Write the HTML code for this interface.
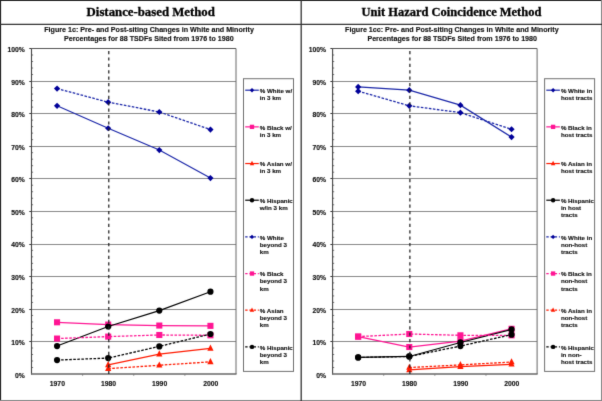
<!DOCTYPE html>
<html><head><meta charset="utf-8"><style>
html,body{margin:0;padding:0;background:#fff;width:602px;height:401px;overflow:hidden;}
body{position:relative;font-family:'Liberation Sans',sans-serif;}
</style></head><body>
<svg width="602" height="401" viewBox="0 0 602 401" style="position:absolute;left:0;top:0;font-family:'Liberation Sans',sans-serif">
<style>.s{stroke:#111;stroke-width:0.14px;}</style>
<defs><filter id="bl" x="0" y="0" width="602" height="401" filterUnits="userSpaceOnUse" color-interpolation-filters="sRGB"><feConvolveMatrix order="3" kernelMatrix="0.01 0.08 0.01 0.08 0.64 0.08 0.01 0.08 0.01" divisor="1" edgeMode="duplicate"/></filter></defs><g filter="url(#bl)">
<rect width="602" height="401" fill="#fff"/>
<line x1="31.50" y1="341.50" x2="236.00" y2="341.50" stroke="#888" stroke-width="1"/>
<line x1="29.30" y1="341.50" x2="31.50" y2="341.50" stroke="#333" stroke-width="1"/>
<line x1="31.50" y1="309.50" x2="236.00" y2="309.50" stroke="#888" stroke-width="1"/>
<line x1="29.30" y1="309.50" x2="31.50" y2="309.50" stroke="#333" stroke-width="1"/>
<line x1="31.50" y1="276.50" x2="236.00" y2="276.50" stroke="#888" stroke-width="1"/>
<line x1="29.30" y1="276.50" x2="31.50" y2="276.50" stroke="#333" stroke-width="1"/>
<line x1="31.50" y1="244.50" x2="236.00" y2="244.50" stroke="#888" stroke-width="1"/>
<line x1="29.30" y1="244.50" x2="31.50" y2="244.50" stroke="#333" stroke-width="1"/>
<line x1="31.50" y1="211.50" x2="236.00" y2="211.50" stroke="#888" stroke-width="1"/>
<line x1="29.30" y1="211.50" x2="31.50" y2="211.50" stroke="#333" stroke-width="1"/>
<line x1="31.50" y1="178.50" x2="236.00" y2="178.50" stroke="#888" stroke-width="1"/>
<line x1="29.30" y1="178.50" x2="31.50" y2="178.50" stroke="#333" stroke-width="1"/>
<line x1="31.50" y1="146.50" x2="236.00" y2="146.50" stroke="#888" stroke-width="1"/>
<line x1="29.30" y1="146.50" x2="31.50" y2="146.50" stroke="#333" stroke-width="1"/>
<line x1="31.50" y1="113.50" x2="236.00" y2="113.50" stroke="#888" stroke-width="1"/>
<line x1="29.30" y1="113.50" x2="31.50" y2="113.50" stroke="#333" stroke-width="1"/>
<line x1="31.50" y1="81.50" x2="236.00" y2="81.50" stroke="#888" stroke-width="1"/>
<line x1="29.30" y1="81.50" x2="31.50" y2="81.50" stroke="#333" stroke-width="1"/>
<line x1="31.50" y1="48.50" x2="236.00" y2="48.50" stroke="#555" stroke-width="1"/>
<line x1="29.30" y1="48.50" x2="31.50" y2="48.50" stroke="#333" stroke-width="1"/>
<line x1="236.00" y1="48.50" x2="236.00" y2="374.05" stroke="#666" stroke-width="1"/>
<line x1="31.50" y1="367.54" x2="33.10" y2="367.54" stroke="#555" stroke-width="0.8"/>
<line x1="31.50" y1="361.03" x2="33.10" y2="361.03" stroke="#555" stroke-width="0.8"/>
<line x1="31.50" y1="354.52" x2="33.10" y2="354.52" stroke="#555" stroke-width="0.8"/>
<line x1="31.50" y1="348.01" x2="33.10" y2="348.01" stroke="#555" stroke-width="0.8"/>
<line x1="31.50" y1="334.98" x2="33.10" y2="334.98" stroke="#555" stroke-width="0.8"/>
<line x1="31.50" y1="328.47" x2="33.10" y2="328.47" stroke="#555" stroke-width="0.8"/>
<line x1="31.50" y1="321.96" x2="33.10" y2="321.96" stroke="#555" stroke-width="0.8"/>
<line x1="31.50" y1="315.45" x2="33.10" y2="315.45" stroke="#555" stroke-width="0.8"/>
<line x1="31.50" y1="302.43" x2="33.10" y2="302.43" stroke="#555" stroke-width="0.8"/>
<line x1="31.50" y1="295.92" x2="33.10" y2="295.92" stroke="#555" stroke-width="0.8"/>
<line x1="31.50" y1="289.41" x2="33.10" y2="289.41" stroke="#555" stroke-width="0.8"/>
<line x1="31.50" y1="282.90" x2="33.10" y2="282.90" stroke="#555" stroke-width="0.8"/>
<line x1="31.50" y1="269.87" x2="33.10" y2="269.87" stroke="#555" stroke-width="0.8"/>
<line x1="31.50" y1="263.36" x2="33.10" y2="263.36" stroke="#555" stroke-width="0.8"/>
<line x1="31.50" y1="256.85" x2="33.10" y2="256.85" stroke="#555" stroke-width="0.8"/>
<line x1="31.50" y1="250.34" x2="33.10" y2="250.34" stroke="#555" stroke-width="0.8"/>
<line x1="31.50" y1="237.32" x2="33.10" y2="237.32" stroke="#555" stroke-width="0.8"/>
<line x1="31.50" y1="230.81" x2="33.10" y2="230.81" stroke="#555" stroke-width="0.8"/>
<line x1="31.50" y1="224.30" x2="33.10" y2="224.30" stroke="#555" stroke-width="0.8"/>
<line x1="31.50" y1="217.79" x2="33.10" y2="217.79" stroke="#555" stroke-width="0.8"/>
<line x1="31.50" y1="204.76" x2="33.10" y2="204.76" stroke="#555" stroke-width="0.8"/>
<line x1="31.50" y1="198.25" x2="33.10" y2="198.25" stroke="#555" stroke-width="0.8"/>
<line x1="31.50" y1="191.74" x2="33.10" y2="191.74" stroke="#555" stroke-width="0.8"/>
<line x1="31.50" y1="185.23" x2="33.10" y2="185.23" stroke="#555" stroke-width="0.8"/>
<line x1="31.50" y1="172.21" x2="33.10" y2="172.21" stroke="#555" stroke-width="0.8"/>
<line x1="31.50" y1="165.70" x2="33.10" y2="165.70" stroke="#555" stroke-width="0.8"/>
<line x1="31.50" y1="159.19" x2="33.10" y2="159.19" stroke="#555" stroke-width="0.8"/>
<line x1="31.50" y1="152.68" x2="33.10" y2="152.68" stroke="#555" stroke-width="0.8"/>
<line x1="31.50" y1="139.65" x2="33.10" y2="139.65" stroke="#555" stroke-width="0.8"/>
<line x1="31.50" y1="133.14" x2="33.10" y2="133.14" stroke="#555" stroke-width="0.8"/>
<line x1="31.50" y1="126.63" x2="33.10" y2="126.63" stroke="#555" stroke-width="0.8"/>
<line x1="31.50" y1="120.12" x2="33.10" y2="120.12" stroke="#555" stroke-width="0.8"/>
<line x1="31.50" y1="107.10" x2="33.10" y2="107.10" stroke="#555" stroke-width="0.8"/>
<line x1="31.50" y1="100.59" x2="33.10" y2="100.59" stroke="#555" stroke-width="0.8"/>
<line x1="31.50" y1="94.08" x2="33.10" y2="94.08" stroke="#555" stroke-width="0.8"/>
<line x1="31.50" y1="87.57" x2="33.10" y2="87.57" stroke="#555" stroke-width="0.8"/>
<line x1="31.50" y1="74.54" x2="33.10" y2="74.54" stroke="#555" stroke-width="0.8"/>
<line x1="31.50" y1="68.03" x2="33.10" y2="68.03" stroke="#555" stroke-width="0.8"/>
<line x1="31.50" y1="61.52" x2="33.10" y2="61.52" stroke="#555" stroke-width="0.8"/>
<line x1="31.50" y1="55.01" x2="33.10" y2="55.01" stroke="#555" stroke-width="0.8"/>
<line x1="31.50" y1="48.50" x2="31.50" y2="374.55" stroke="#444" stroke-width="1.1"/>
<line x1="31.00" y1="374.0" x2="236.50" y2="374.0" stroke="#666" stroke-width="1.6"/>
<line x1="82.62" y1="374.05" x2="82.62" y2="375.85" stroke="#777" stroke-width="0.8"/>
<line x1="133.75" y1="374.05" x2="133.75" y2="375.85" stroke="#777" stroke-width="0.8"/>
<line x1="184.88" y1="374.05" x2="184.88" y2="375.85" stroke="#777" stroke-width="0.8"/>
<text x="24.80" y="377.65" text-anchor="end" font-size="6.75" class="s" font-weight="bold" fill="#111">0%</text>
<text x="24.80" y="345.10" text-anchor="end" font-size="6.75" class="s" font-weight="bold" fill="#111">10%</text>
<text x="24.80" y="312.54" text-anchor="end" font-size="6.75" class="s" font-weight="bold" fill="#111">20%</text>
<text x="24.80" y="279.99" text-anchor="end" font-size="6.75" class="s" font-weight="bold" fill="#111">30%</text>
<text x="24.80" y="247.43" text-anchor="end" font-size="6.75" class="s" font-weight="bold" fill="#111">40%</text>
<text x="24.80" y="214.88" text-anchor="end" font-size="6.75" class="s" font-weight="bold" fill="#111">50%</text>
<text x="24.80" y="182.32" text-anchor="end" font-size="6.75" class="s" font-weight="bold" fill="#111">60%</text>
<text x="24.80" y="149.77" text-anchor="end" font-size="6.75" class="s" font-weight="bold" fill="#111">70%</text>
<text x="24.80" y="117.21" text-anchor="end" font-size="6.75" class="s" font-weight="bold" fill="#111">80%</text>
<text x="24.80" y="84.66" text-anchor="end" font-size="6.75" class="s" font-weight="bold" fill="#111">90%</text>
<text x="24.80" y="52.10" text-anchor="end" font-size="6.75" class="s" font-weight="bold" fill="#111">100%</text>
<text x="57.36" y="385.60" text-anchor="middle" font-size="6.8" class="s" font-weight="bold" fill="#111">1970</text>
<text x="108.49" y="385.60" text-anchor="middle" font-size="6.8" class="s" font-weight="bold" fill="#111">1980</text>
<text x="159.61" y="385.60" text-anchor="middle" font-size="6.8" class="s" font-weight="bold" fill="#111">1990</text>
<text x="210.74" y="385.60" text-anchor="middle" font-size="6.8" class="s" font-weight="bold" fill="#111">2000</text>
<path d="M57.06 105.80L108.19 128.26L159.31 150.07L210.44 178.07" fill="none" stroke="#1a26a8" stroke-width="1.2"/>
<path d="M57.06 102.70L60.16 105.80L57.06 108.90L53.96 105.80Z" fill="#000099"/>
<path d="M108.19 125.16L111.29 128.26L108.19 131.36L105.09 128.26Z" fill="#000099"/>
<path d="M159.31 146.97L162.41 150.07L159.31 153.17L156.21 150.07Z" fill="#000099"/>
<path d="M210.44 174.97L213.54 178.07L210.44 181.17L207.34 178.07Z" fill="#000099"/>
<path d="M57.06 322.29L108.19 324.57L159.31 325.54L210.44 325.87" fill="none" stroke="#ff1493" stroke-width="1.2"/>
<rect x="54.02" y="319.25" width="6.08" height="6.08" fill="#ff1493"/>
<rect x="105.15" y="321.53" width="6.08" height="6.08" fill="#ff1493"/>
<rect x="156.27" y="322.51" width="6.08" height="6.08" fill="#ff1493"/>
<rect x="207.40" y="322.83" width="6.08" height="6.08" fill="#ff1493"/>
<path d="M108.19 364.93L159.31 354.19L210.44 348.33" fill="none" stroke="#ff1a00" stroke-width="1.2"/>
<path d="M108.19 361.06L111.29 367.26L105.09 367.26Z" fill="#ff1a00"/>
<path d="M159.31 350.32L162.41 356.52L156.21 356.52Z" fill="#ff1a00"/>
<path d="M210.44 344.46L213.54 350.66L207.34 350.66Z" fill="#ff1a00"/>
<path d="M57.06 346.05L108.19 326.52L159.31 310.57L210.44 291.69" fill="none" stroke="#000000" stroke-width="1.2"/>
<circle cx="57.06" cy="346.05" r="3.10" fill="#000000"/>
<circle cx="108.19" cy="326.52" r="3.10" fill="#000000"/>
<circle cx="159.31" cy="310.57" r="3.10" fill="#000000"/>
<circle cx="210.44" cy="291.69" r="3.10" fill="#000000"/>
<path d="M57.06 88.54L108.19 102.22L159.31 111.98L210.44 129.56" fill="none" stroke="#1a26a8" stroke-width="1.3" stroke-dasharray="2.6 1.45"/>
<path d="M57.06 85.44L60.16 88.54L57.06 91.64L53.96 88.54Z" fill="#000099"/>
<path d="M108.19 99.12L111.29 102.22L108.19 105.32L105.09 102.22Z" fill="#000099"/>
<path d="M159.31 108.88L162.41 111.98L159.31 115.08L156.21 111.98Z" fill="#000099"/>
<path d="M210.44 126.46L213.54 129.56L210.44 132.66L207.34 129.56Z" fill="#000099"/>
<path d="M57.06 338.57L108.19 336.61L159.31 334.98L210.44 335.31" fill="none" stroke="#ff1493" stroke-width="1.3" stroke-dasharray="2.6 1.45"/>
<rect x="54.02" y="335.53" width="6.08" height="6.08" fill="#ff1493"/>
<rect x="105.15" y="333.57" width="6.08" height="6.08" fill="#ff1493"/>
<rect x="156.27" y="331.95" width="6.08" height="6.08" fill="#ff1493"/>
<rect x="207.40" y="332.27" width="6.08" height="6.08" fill="#ff1493"/>
<path d="M108.19 368.68L159.31 365.26L210.44 361.84" fill="none" stroke="#ff1a00" stroke-width="1.3" stroke-dasharray="2.6 1.45"/>
<path d="M108.19 364.80L111.29 371.00L105.09 371.00Z" fill="#ff1a00"/>
<path d="M159.31 361.39L162.41 367.59L156.21 367.59Z" fill="#ff1a00"/>
<path d="M210.44 357.97L213.54 364.17L207.34 364.17Z" fill="#ff1a00"/>
<path d="M57.06 360.05L108.19 358.10L159.31 346.38L210.44 334.01" fill="none" stroke="#000000" stroke-width="1.3" stroke-dasharray="2.6 1.45"/>
<circle cx="57.06" cy="360.05" r="3.10" fill="#000000"/>
<circle cx="108.19" cy="358.10" r="3.10" fill="#000000"/>
<circle cx="159.31" cy="346.38" r="3.10" fill="#000000"/>
<circle cx="210.44" cy="334.01" r="3.10" fill="#000000"/>
<line x1="108.79" y1="51.00" x2="108.79" y2="374.05" stroke="#222" stroke-width="1.25" stroke-dasharray="3.2 3.2"/>
<text x="44.20" y="32.1" font-size="7.1" class="s" font-weight="bold" fill="#111" textLength="209.70" lengthAdjust="spacingAndGlyphs">Figure 1c: Pre- and Post-siting Changes in White and Minority</text>
<text x="64.10" y="40.7" font-size="7.1" class="s" font-weight="bold" fill="#111" textLength="169.50" lengthAdjust="spacingAndGlyphs">Percentages for 88 TSDFs Sited from 1976 to 1980</text>
<rect x="243.50" y="78.70" width="50.00" height="292.70" fill="#fff" stroke="#707070" stroke-width="1"/>
<line x1="245.20" y1="90.20" x2="258.80" y2="90.20" stroke="#1a26a8" stroke-width="1.2"/>
<path d="M252.00 88.00L254.20 90.20L252.00 92.40L249.80 90.20Z" fill="#000099"/>
<text x="259.80" y="93.00" font-size="6.2" class="s" font-weight="bold" fill="#111">% White w/</text>
<text x="259.80" y="100.10" font-size="6.2" class="s" font-weight="bold" fill="#111">in 3 km</text>
<line x1="245.20" y1="126.87" x2="258.80" y2="126.87" stroke="#ff1493" stroke-width="1.2"/>
<rect x="249.84" y="124.71" width="4.31" height="4.31" fill="#ff1493"/>
<text x="259.80" y="129.67" font-size="6.2" class="s" font-weight="bold" fill="#111">% Black w/</text>
<text x="259.80" y="136.77" font-size="6.2" class="s" font-weight="bold" fill="#111">in 3 km</text>
<line x1="245.20" y1="163.54" x2="258.80" y2="163.54" stroke="#ff1a00" stroke-width="1.2"/>
<path d="M252.00 160.79L254.20 165.19L249.80 165.19Z" fill="#ff1a00"/>
<text x="259.80" y="166.34" font-size="6.2" class="s" font-weight="bold" fill="#111">% Asian w/</text>
<text x="259.80" y="173.44" font-size="6.2" class="s" font-weight="bold" fill="#111">in 3 km</text>
<line x1="245.20" y1="200.21" x2="258.80" y2="200.21" stroke="#000000" stroke-width="1.2"/>
<circle cx="252.00" cy="200.21" r="2.20" fill="#000000"/>
<text x="259.80" y="203.01" font-size="6.2" class="s" font-weight="bold" fill="#111">% Hispanic</text>
<text x="259.80" y="210.11" font-size="6.2" class="s" font-weight="bold" fill="#111">w/in 3 km</text>
<line x1="245.20" y1="236.88" x2="258.80" y2="236.88" stroke="#1a26a8" stroke-width="1.2" stroke-dasharray="2.4 1.8"/>
<path d="M252.00 234.68L254.20 236.88L252.00 239.08L249.80 236.88Z" fill="#000099"/>
<text x="259.80" y="239.68" font-size="6.2" class="s" font-weight="bold" fill="#111">% White</text>
<text x="259.80" y="246.78" font-size="6.2" class="s" font-weight="bold" fill="#111">beyond 3</text>
<text x="259.80" y="253.88" font-size="6.2" class="s" font-weight="bold" fill="#111">km</text>
<line x1="245.20" y1="273.55" x2="258.80" y2="273.55" stroke="#ff1493" stroke-width="1.2" stroke-dasharray="2.4 1.8"/>
<rect x="249.84" y="271.39" width="4.31" height="4.31" fill="#ff1493"/>
<text x="259.80" y="276.35" font-size="6.2" class="s" font-weight="bold" fill="#111">% Black</text>
<text x="259.80" y="283.45" font-size="6.2" class="s" font-weight="bold" fill="#111">beyond 3</text>
<text x="259.80" y="290.55" font-size="6.2" class="s" font-weight="bold" fill="#111">km</text>
<line x1="245.20" y1="310.22" x2="258.80" y2="310.22" stroke="#ff1a00" stroke-width="1.2" stroke-dasharray="2.4 1.8"/>
<path d="M252.00 307.47L254.20 311.87L249.80 311.87Z" fill="#ff1a00"/>
<text x="259.80" y="313.02" font-size="6.2" class="s" font-weight="bold" fill="#111">% Asian</text>
<text x="259.80" y="320.12" font-size="6.2" class="s" font-weight="bold" fill="#111">beyond 3</text>
<text x="259.80" y="327.22" font-size="6.2" class="s" font-weight="bold" fill="#111">km</text>
<line x1="245.20" y1="346.89" x2="258.80" y2="346.89" stroke="#000000" stroke-width="1.2" stroke-dasharray="2.4 1.8"/>
<circle cx="252.00" cy="346.89" r="2.20" fill="#000000"/>
<text x="259.80" y="349.69" font-size="6.2" class="s" font-weight="bold" fill="#111">% Hispanic</text>
<text x="259.80" y="356.79" font-size="6.2" class="s" font-weight="bold" fill="#111">beyond 3</text>
<text x="259.80" y="363.89" font-size="6.2" class="s" font-weight="bold" fill="#111">km</text>
<line x1="332.60" y1="341.50" x2="537.10" y2="341.50" stroke="#888" stroke-width="1"/>
<line x1="330.40" y1="341.50" x2="332.60" y2="341.50" stroke="#333" stroke-width="1"/>
<line x1="332.60" y1="309.50" x2="537.10" y2="309.50" stroke="#888" stroke-width="1"/>
<line x1="330.40" y1="309.50" x2="332.60" y2="309.50" stroke="#333" stroke-width="1"/>
<line x1="332.60" y1="276.50" x2="537.10" y2="276.50" stroke="#888" stroke-width="1"/>
<line x1="330.40" y1="276.50" x2="332.60" y2="276.50" stroke="#333" stroke-width="1"/>
<line x1="332.60" y1="244.50" x2="537.10" y2="244.50" stroke="#888" stroke-width="1"/>
<line x1="330.40" y1="244.50" x2="332.60" y2="244.50" stroke="#333" stroke-width="1"/>
<line x1="332.60" y1="211.50" x2="537.10" y2="211.50" stroke="#888" stroke-width="1"/>
<line x1="330.40" y1="211.50" x2="332.60" y2="211.50" stroke="#333" stroke-width="1"/>
<line x1="332.60" y1="178.50" x2="537.10" y2="178.50" stroke="#888" stroke-width="1"/>
<line x1="330.40" y1="178.50" x2="332.60" y2="178.50" stroke="#333" stroke-width="1"/>
<line x1="332.60" y1="146.50" x2="537.10" y2="146.50" stroke="#888" stroke-width="1"/>
<line x1="330.40" y1="146.50" x2="332.60" y2="146.50" stroke="#333" stroke-width="1"/>
<line x1="332.60" y1="113.50" x2="537.10" y2="113.50" stroke="#888" stroke-width="1"/>
<line x1="330.40" y1="113.50" x2="332.60" y2="113.50" stroke="#333" stroke-width="1"/>
<line x1="332.60" y1="81.50" x2="537.10" y2="81.50" stroke="#888" stroke-width="1"/>
<line x1="330.40" y1="81.50" x2="332.60" y2="81.50" stroke="#333" stroke-width="1"/>
<line x1="332.60" y1="48.50" x2="537.10" y2="48.50" stroke="#555" stroke-width="1"/>
<line x1="330.40" y1="48.50" x2="332.60" y2="48.50" stroke="#333" stroke-width="1"/>
<line x1="537.10" y1="48.50" x2="537.10" y2="374.05" stroke="#666" stroke-width="1"/>
<line x1="332.60" y1="367.54" x2="334.20" y2="367.54" stroke="#555" stroke-width="0.8"/>
<line x1="332.60" y1="361.03" x2="334.20" y2="361.03" stroke="#555" stroke-width="0.8"/>
<line x1="332.60" y1="354.52" x2="334.20" y2="354.52" stroke="#555" stroke-width="0.8"/>
<line x1="332.60" y1="348.01" x2="334.20" y2="348.01" stroke="#555" stroke-width="0.8"/>
<line x1="332.60" y1="334.98" x2="334.20" y2="334.98" stroke="#555" stroke-width="0.8"/>
<line x1="332.60" y1="328.47" x2="334.20" y2="328.47" stroke="#555" stroke-width="0.8"/>
<line x1="332.60" y1="321.96" x2="334.20" y2="321.96" stroke="#555" stroke-width="0.8"/>
<line x1="332.60" y1="315.45" x2="334.20" y2="315.45" stroke="#555" stroke-width="0.8"/>
<line x1="332.60" y1="302.43" x2="334.20" y2="302.43" stroke="#555" stroke-width="0.8"/>
<line x1="332.60" y1="295.92" x2="334.20" y2="295.92" stroke="#555" stroke-width="0.8"/>
<line x1="332.60" y1="289.41" x2="334.20" y2="289.41" stroke="#555" stroke-width="0.8"/>
<line x1="332.60" y1="282.90" x2="334.20" y2="282.90" stroke="#555" stroke-width="0.8"/>
<line x1="332.60" y1="269.87" x2="334.20" y2="269.87" stroke="#555" stroke-width="0.8"/>
<line x1="332.60" y1="263.36" x2="334.20" y2="263.36" stroke="#555" stroke-width="0.8"/>
<line x1="332.60" y1="256.85" x2="334.20" y2="256.85" stroke="#555" stroke-width="0.8"/>
<line x1="332.60" y1="250.34" x2="334.20" y2="250.34" stroke="#555" stroke-width="0.8"/>
<line x1="332.60" y1="237.32" x2="334.20" y2="237.32" stroke="#555" stroke-width="0.8"/>
<line x1="332.60" y1="230.81" x2="334.20" y2="230.81" stroke="#555" stroke-width="0.8"/>
<line x1="332.60" y1="224.30" x2="334.20" y2="224.30" stroke="#555" stroke-width="0.8"/>
<line x1="332.60" y1="217.79" x2="334.20" y2="217.79" stroke="#555" stroke-width="0.8"/>
<line x1="332.60" y1="204.76" x2="334.20" y2="204.76" stroke="#555" stroke-width="0.8"/>
<line x1="332.60" y1="198.25" x2="334.20" y2="198.25" stroke="#555" stroke-width="0.8"/>
<line x1="332.60" y1="191.74" x2="334.20" y2="191.74" stroke="#555" stroke-width="0.8"/>
<line x1="332.60" y1="185.23" x2="334.20" y2="185.23" stroke="#555" stroke-width="0.8"/>
<line x1="332.60" y1="172.21" x2="334.20" y2="172.21" stroke="#555" stroke-width="0.8"/>
<line x1="332.60" y1="165.70" x2="334.20" y2="165.70" stroke="#555" stroke-width="0.8"/>
<line x1="332.60" y1="159.19" x2="334.20" y2="159.19" stroke="#555" stroke-width="0.8"/>
<line x1="332.60" y1="152.68" x2="334.20" y2="152.68" stroke="#555" stroke-width="0.8"/>
<line x1="332.60" y1="139.65" x2="334.20" y2="139.65" stroke="#555" stroke-width="0.8"/>
<line x1="332.60" y1="133.14" x2="334.20" y2="133.14" stroke="#555" stroke-width="0.8"/>
<line x1="332.60" y1="126.63" x2="334.20" y2="126.63" stroke="#555" stroke-width="0.8"/>
<line x1="332.60" y1="120.12" x2="334.20" y2="120.12" stroke="#555" stroke-width="0.8"/>
<line x1="332.60" y1="107.10" x2="334.20" y2="107.10" stroke="#555" stroke-width="0.8"/>
<line x1="332.60" y1="100.59" x2="334.20" y2="100.59" stroke="#555" stroke-width="0.8"/>
<line x1="332.60" y1="94.08" x2="334.20" y2="94.08" stroke="#555" stroke-width="0.8"/>
<line x1="332.60" y1="87.57" x2="334.20" y2="87.57" stroke="#555" stroke-width="0.8"/>
<line x1="332.60" y1="74.54" x2="334.20" y2="74.54" stroke="#555" stroke-width="0.8"/>
<line x1="332.60" y1="68.03" x2="334.20" y2="68.03" stroke="#555" stroke-width="0.8"/>
<line x1="332.60" y1="61.52" x2="334.20" y2="61.52" stroke="#555" stroke-width="0.8"/>
<line x1="332.60" y1="55.01" x2="334.20" y2="55.01" stroke="#555" stroke-width="0.8"/>
<line x1="332.60" y1="48.50" x2="332.60" y2="374.55" stroke="#444" stroke-width="1.1"/>
<line x1="332.10" y1="374.0" x2="537.60" y2="374.0" stroke="#666" stroke-width="1.6"/>
<line x1="383.73" y1="374.05" x2="383.73" y2="375.85" stroke="#777" stroke-width="0.8"/>
<line x1="434.85" y1="374.05" x2="434.85" y2="375.85" stroke="#777" stroke-width="0.8"/>
<line x1="485.98" y1="374.05" x2="485.98" y2="375.85" stroke="#777" stroke-width="0.8"/>
<text x="325.90" y="377.65" text-anchor="end" font-size="6.75" class="s" font-weight="bold" fill="#111">0%</text>
<text x="325.90" y="345.10" text-anchor="end" font-size="6.75" class="s" font-weight="bold" fill="#111">10%</text>
<text x="325.90" y="312.54" text-anchor="end" font-size="6.75" class="s" font-weight="bold" fill="#111">20%</text>
<text x="325.90" y="279.99" text-anchor="end" font-size="6.75" class="s" font-weight="bold" fill="#111">30%</text>
<text x="325.90" y="247.43" text-anchor="end" font-size="6.75" class="s" font-weight="bold" fill="#111">40%</text>
<text x="325.90" y="214.88" text-anchor="end" font-size="6.75" class="s" font-weight="bold" fill="#111">50%</text>
<text x="325.90" y="182.32" text-anchor="end" font-size="6.75" class="s" font-weight="bold" fill="#111">60%</text>
<text x="325.90" y="149.77" text-anchor="end" font-size="6.75" class="s" font-weight="bold" fill="#111">70%</text>
<text x="325.90" y="117.21" text-anchor="end" font-size="6.75" class="s" font-weight="bold" fill="#111">80%</text>
<text x="325.90" y="84.66" text-anchor="end" font-size="6.75" class="s" font-weight="bold" fill="#111">90%</text>
<text x="325.90" y="52.10" text-anchor="end" font-size="6.75" class="s" font-weight="bold" fill="#111">100%</text>
<text x="358.46" y="385.60" text-anchor="middle" font-size="6.8" class="s" font-weight="bold" fill="#111">1970</text>
<text x="409.59" y="385.60" text-anchor="middle" font-size="6.8" class="s" font-weight="bold" fill="#111">1980</text>
<text x="460.71" y="385.60" text-anchor="middle" font-size="6.8" class="s" font-weight="bold" fill="#111">1990</text>
<text x="511.84" y="385.60" text-anchor="middle" font-size="6.8" class="s" font-weight="bold" fill="#111">2000</text>
<path d="M358.16 86.91L409.29 90.17L460.41 105.15L511.54 137.05" fill="none" stroke="#1a26a8" stroke-width="1.2"/>
<path d="M358.16 83.81L361.26 86.91L358.16 90.01L355.06 86.91Z" fill="#000099"/>
<path d="M409.29 87.07L412.39 90.17L409.29 93.27L406.19 90.17Z" fill="#000099"/>
<path d="M460.41 102.05L463.51 105.15L460.41 108.25L457.31 105.15Z" fill="#000099"/>
<path d="M511.54 133.95L514.64 137.05L511.54 140.15L508.44 137.05Z" fill="#000099"/>
<path d="M358.16 336.61L409.29 347.03L460.41 341.17L511.54 328.80" fill="none" stroke="#ff1493" stroke-width="1.2"/>
<rect x="355.12" y="333.57" width="6.08" height="6.08" fill="#ff1493"/>
<rect x="406.25" y="343.99" width="6.08" height="6.08" fill="#ff1493"/>
<rect x="457.37" y="338.13" width="6.08" height="6.08" fill="#ff1493"/>
<rect x="508.50" y="325.76" width="6.08" height="6.08" fill="#ff1493"/>
<path d="M409.29 369.82L460.41 366.56L511.54 364.28" fill="none" stroke="#ff1a00" stroke-width="1.2"/>
<path d="M409.29 365.94L412.39 372.14L406.19 372.14Z" fill="#ff1a00"/>
<path d="M460.41 362.69L463.51 368.89L457.31 368.89Z" fill="#ff1a00"/>
<path d="M511.54 360.41L514.64 366.61L508.44 366.61Z" fill="#ff1a00"/>
<path d="M358.16 357.45L409.29 356.47L460.41 342.47L511.54 329.45" fill="none" stroke="#000000" stroke-width="1.2"/>
<circle cx="358.16" cy="357.45" r="3.10" fill="#000000"/>
<circle cx="409.29" cy="356.47" r="3.10" fill="#000000"/>
<circle cx="460.41" cy="342.47" r="3.10" fill="#000000"/>
<circle cx="511.54" cy="329.45" r="3.10" fill="#000000"/>
<path d="M358.16 91.15L409.29 105.80L460.41 112.63L511.54 129.24" fill="none" stroke="#1a26a8" stroke-width="1.3" stroke-dasharray="2.6 1.45"/>
<path d="M358.16 88.05L361.26 91.15L358.16 94.25L355.06 91.15Z" fill="#000099"/>
<path d="M409.29 102.70L412.39 105.80L409.29 108.90L406.19 105.80Z" fill="#000099"/>
<path d="M460.41 109.53L463.51 112.63L460.41 115.73L457.31 112.63Z" fill="#000099"/>
<path d="M511.54 126.14L514.64 129.24L511.54 132.34L508.44 129.24Z" fill="#000099"/>
<path d="M358.16 336.61L409.29 334.01L460.41 335.31L511.54 335.31" fill="none" stroke="#ff1493" stroke-width="1.3" stroke-dasharray="2.6 1.45"/>
<rect x="355.12" y="333.57" width="6.08" height="6.08" fill="#ff1493"/>
<rect x="406.25" y="330.97" width="6.08" height="6.08" fill="#ff1493"/>
<rect x="457.37" y="332.27" width="6.08" height="6.08" fill="#ff1493"/>
<rect x="508.50" y="332.27" width="6.08" height="6.08" fill="#ff1493"/>
<path d="M409.29 367.54L460.41 364.93L511.54 362.00" fill="none" stroke="#ff1a00" stroke-width="1.3" stroke-dasharray="2.6 1.45"/>
<path d="M409.29 363.66L412.39 369.86L406.19 369.86Z" fill="#ff1a00"/>
<path d="M460.41 361.06L463.51 367.26L457.31 367.26Z" fill="#ff1a00"/>
<path d="M511.54 358.13L514.64 364.33L508.44 364.33Z" fill="#ff1a00"/>
<path d="M358.16 357.45L409.29 356.47L460.41 346.05L511.54 334.66" fill="none" stroke="#000000" stroke-width="1.3" stroke-dasharray="2.6 1.45"/>
<circle cx="358.16" cy="357.45" r="3.10" fill="#000000"/>
<circle cx="409.29" cy="356.47" r="3.10" fill="#000000"/>
<circle cx="460.41" cy="346.05" r="3.10" fill="#000000"/>
<circle cx="511.54" cy="334.66" r="3.10" fill="#000000"/>
<line x1="409.89" y1="51.00" x2="409.89" y2="374.05" stroke="#222" stroke-width="1.25" stroke-dasharray="3.2 3.2"/>
<text x="345.10" y="32.1" font-size="7.1" class="s" font-weight="bold" fill="#111" textLength="213.60" lengthAdjust="spacingAndGlyphs">Figure 1cc: Pre- and Post-siting Changes in White and Minority</text>
<text x="367.40" y="40.7" font-size="7.1" class="s" font-weight="bold" fill="#111" textLength="169.60" lengthAdjust="spacingAndGlyphs">Percentages for 88 TSDFs Sited from 1976 to 1980</text>
<rect x="544.60" y="78.70" width="50.00" height="292.70" fill="#fff" stroke="#707070" stroke-width="1"/>
<line x1="546.30" y1="90.20" x2="559.90" y2="90.20" stroke="#1a26a8" stroke-width="1.2"/>
<path d="M553.10 88.00L555.30 90.20L553.10 92.40L550.90 90.20Z" fill="#000099"/>
<text x="560.90" y="93.00" font-size="6.2" class="s" font-weight="bold" fill="#111">% White in</text>
<text x="560.90" y="100.10" font-size="6.2" class="s" font-weight="bold" fill="#111">host tracts</text>
<line x1="546.30" y1="126.87" x2="559.90" y2="126.87" stroke="#ff1493" stroke-width="1.2"/>
<rect x="550.94" y="124.71" width="4.31" height="4.31" fill="#ff1493"/>
<text x="560.90" y="129.67" font-size="6.2" class="s" font-weight="bold" fill="#111">% Black in</text>
<text x="560.90" y="136.77" font-size="6.2" class="s" font-weight="bold" fill="#111">host tracts</text>
<line x1="546.30" y1="163.54" x2="559.90" y2="163.54" stroke="#ff1a00" stroke-width="1.2"/>
<path d="M553.10 160.79L555.30 165.19L550.90 165.19Z" fill="#ff1a00"/>
<text x="560.90" y="166.34" font-size="6.2" class="s" font-weight="bold" fill="#111">% Asian in</text>
<text x="560.90" y="173.44" font-size="6.2" class="s" font-weight="bold" fill="#111">host tracts</text>
<line x1="546.30" y1="200.21" x2="559.90" y2="200.21" stroke="#000000" stroke-width="1.2"/>
<circle cx="553.10" cy="200.21" r="2.20" fill="#000000"/>
<text x="560.90" y="203.01" font-size="6.2" class="s" font-weight="bold" fill="#111">% Hispanic</text>
<text x="560.90" y="210.11" font-size="6.2" class="s" font-weight="bold" fill="#111">in host</text>
<text x="560.90" y="217.21" font-size="6.2" class="s" font-weight="bold" fill="#111">tracts</text>
<line x1="546.30" y1="236.88" x2="559.90" y2="236.88" stroke="#1a26a8" stroke-width="1.2" stroke-dasharray="2.4 1.8"/>
<path d="M553.10 234.68L555.30 236.88L553.10 239.08L550.90 236.88Z" fill="#000099"/>
<text x="560.90" y="239.68" font-size="6.2" class="s" font-weight="bold" fill="#111">% White in</text>
<text x="560.90" y="246.78" font-size="6.2" class="s" font-weight="bold" fill="#111">non-host</text>
<text x="560.90" y="253.88" font-size="6.2" class="s" font-weight="bold" fill="#111">tracts</text>
<line x1="546.30" y1="273.55" x2="559.90" y2="273.55" stroke="#ff1493" stroke-width="1.2" stroke-dasharray="2.4 1.8"/>
<rect x="550.94" y="271.39" width="4.31" height="4.31" fill="#ff1493"/>
<text x="560.90" y="276.35" font-size="6.2" class="s" font-weight="bold" fill="#111">% Black in</text>
<text x="560.90" y="283.45" font-size="6.2" class="s" font-weight="bold" fill="#111">non-host</text>
<text x="560.90" y="290.55" font-size="6.2" class="s" font-weight="bold" fill="#111">tracts</text>
<line x1="546.30" y1="310.22" x2="559.90" y2="310.22" stroke="#ff1a00" stroke-width="1.2" stroke-dasharray="2.4 1.8"/>
<path d="M553.10 307.47L555.30 311.87L550.90 311.87Z" fill="#ff1a00"/>
<text x="560.90" y="313.02" font-size="6.2" class="s" font-weight="bold" fill="#111">% Asian in</text>
<text x="560.90" y="320.12" font-size="6.2" class="s" font-weight="bold" fill="#111">non-host</text>
<text x="560.90" y="327.22" font-size="6.2" class="s" font-weight="bold" fill="#111">tracts</text>
<line x1="546.30" y1="346.89" x2="559.90" y2="346.89" stroke="#000000" stroke-width="1.2" stroke-dasharray="2.4 1.8"/>
<circle cx="553.10" cy="346.89" r="2.20" fill="#000000"/>
<text x="560.90" y="349.69" font-size="6.2" class="s" font-weight="bold" fill="#111">% Hispanic</text>
<text x="560.90" y="356.79" font-size="6.2" class="s" font-weight="bold" fill="#111">in non-</text>
<text x="560.90" y="363.89" font-size="6.2" class="s" font-weight="bold" fill="#111">host tracts</text>
<text x="86.6" y="15.9" font-family="Liberation Serif" font-weight="bold" font-size="12.7" fill="#000" stroke="#000" stroke-width="0.3" textLength="128.3" lengthAdjust="spacingAndGlyphs">Distance-based Method</text>
<text x="361.6" y="15.9" font-family="Liberation Serif" font-weight="bold" font-size="12.7" fill="#000" stroke="#000" stroke-width="0.3" textLength="179.8" lengthAdjust="spacingAndGlyphs">Unit Hazard Coincidence Method</text>
<line x1="0" y1="0.5" x2="602" y2="0.5" stroke="#222" stroke-width="1"/>
<line x1="0.5" y1="0" x2="0.5" y2="401" stroke="#222" stroke-width="1.2"/>
<line x1="601.5" y1="0" x2="601.5" y2="401" stroke="#888" stroke-width="1"/>
<line x1="0" y1="400.5" x2="602" y2="400.5" stroke="#888" stroke-width="1"/>
<line x1="0" y1="24.3" x2="602" y2="24.3" stroke="#333" stroke-width="1.2"/>
<line x1="301.2" y1="0" x2="301.2" y2="401" stroke="#333" stroke-width="1.3"/>
</g></svg>
</body></html>
